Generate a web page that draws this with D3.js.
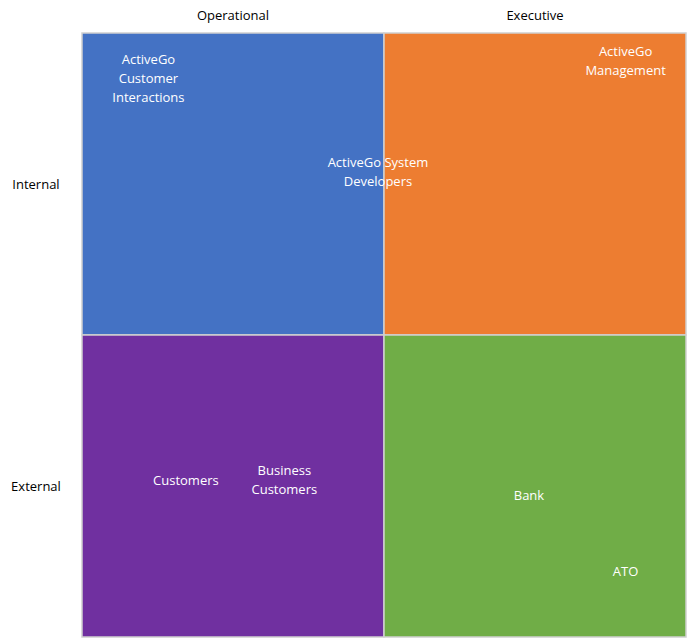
<!DOCTYPE html>
<html>
<head>
<meta charset="utf-8">
<script src="https://cdn.jsdelivr.net/npm/d3@7"></script>
<style>
  body { margin: 0; background: #fff; }
  text { font-family: "Open Sans", sans-serif; }
</style>
</head>
<body>
<div id="chart"></div>
<script>
// quadrant data
const columns = ["Operational", "Executive"];
const rows = ["Internal", "External"];
const quadColors = [["#4472C4", "#ED7D31"], ["#7030A0", "#70AD47"]];

// stakeholders: name lines, x (0-2), y (0-2, up)
const names = [
    ["ActiveGo", "Customer", "Interactions"],
    ["ActiveGo System", "Developers"],
    ["ActiveGo", "Management"],
    ["Customers"],
    ["Business", "Customers"],
    ["Bank"],
    ["ATO"]
];
const xs = [0.22, 0.98, 1.80, 0.344, 0.67, 1.48, 1.80];
const ys = [1.85, 1.54, 1.91, 0.52, 0.52, 0.47, 0.22];

const width = 687, height = 638;
const margin = { top: 33, right: 1, bottom: 1, left: 82 };

const svg = d3.select("#chart").append("svg")
    .attr("width", width).attr("height", height);

const x = d3.scaleLinear().domain([0, 2]).range([margin.left, width - margin.right]);
const y = d3.scaleLinear().domain([0, 2]).range([height - margin.bottom, margin.top]);

rows.forEach((r, ri) => {
    columns.forEach((c, ci) => {
        svg.append("rect")
            .attr("x", x(ci))
            .attr("y", y(2 - ri))
            .attr("width", x(ci + 1) - x(ci))
            .attr("height", y(1 - ri) - y(2 - ri))
            .attr("fill", quadColors[ri][ci])
            .attr("stroke", "#d0d0d0")
            .attr("stroke-width", 1.5);
    });
});

svg.selectAll(".col").data(columns).enter().append("text")
    .attr("x", (d, i) => x(i + 0.5))
    .attr("y", 20)
    .attr("text-anchor", "middle")
    .attr("font-size", "13px")
    .attr("fill", "#000")
    .text(d => d);

svg.selectAll(".row").data(rows).enter().append("text")
    .attr("x", 36)
    .attr("y", (d, i) => y(1.5 - i) + 5)
    .attr("text-anchor", "middle")
    .attr("font-size", "13px")
    .attr("fill", "#000")
    .text(d => d);

names.forEach((lines, i) => {
    const t = svg.append("text")
        .attr("text-anchor", "middle")
        .attr("font-size", "13px")
        .attr("fill", "#fff");
    const n = lines.length;
    lines.forEach((l, j) => {
        t.append("tspan")
            .attr("x", x(xs[i]))
            .attr("y", y(ys[i]) + (j - (n - 1) / 2) * 19 + 5)
            .text(l);
    });
});
</script>
</body>
</html>
